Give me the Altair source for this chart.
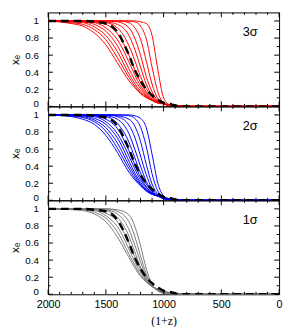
import altair as alt
import pandas as pd

XGRID = [2000, 1800, 1700, 1600, 1500, 1400, 1300, 1250, 1200, 1150, 1100, 1050, 1000, 950, 900, 800, 0]

RED_3SIGMA = [
    [1.00, 0.97, 0.94, 0.86, 0.72, 0.51, 0.30, 0.22, 0.15, 0.10, 0.07, 0.04, 0.03, 0.02, 0.01, 0.00, 0.00],
    [1.00, 0.98, 0.96, 0.90, 0.78, 0.57, 0.34, 0.24, 0.16, 0.11, 0.07, 0.04, 0.03, 0.02, 0.01, 0.00, 0.00],
    [1.00, 0.99, 0.98, 0.93, 0.83, 0.64, 0.38, 0.27, 0.18, 0.12, 0.07, 0.04, 0.03, 0.02, 0.01, 0.00, 0.00],
    [1.00, 1.00, 0.99, 0.96, 0.88, 0.71, 0.44, 0.31, 0.21, 0.13, 0.08, 0.05, 0.03, 0.02, 0.01, 0.00, 0.00],
    [1.00, 1.00, 0.99, 0.98, 0.92, 0.78, 0.52, 0.37, 0.24, 0.15, 0.08, 0.05, 0.03, 0.01, 0.01, 0.00, 0.00],
    [1.00, 1.00, 1.00, 0.99, 0.96, 0.85, 0.60, 0.43, 0.28, 0.17, 0.09, 0.05, 0.03, 0.01, 0.01, 0.00, 0.00],
    [1.00, 1.00, 1.00, 0.99, 0.98, 0.92, 0.71, 0.54, 0.35, 0.21, 0.11, 0.06, 0.03, 0.01, 0.01, 0.00, 0.00],
    [1.00, 1.00, 1.00, 1.00, 0.99, 0.96, 0.83, 0.67, 0.46, 0.26, 0.13, 0.06, 0.03, 0.01, 0.00, 0.00, 0.00],
    [1.00, 1.00, 1.00, 1.00, 1.00, 0.99, 0.92, 0.80, 0.60, 0.35, 0.17, 0.07, 0.03, 0.01, 0.00, 0.00, 0.00],
    [1.00, 1.00, 1.00, 1.00, 1.00, 1.00, 0.98, 0.92, 0.79, 0.53, 0.26, 0.09, 0.03, 0.01, 0.00, 0.00, 0.00],
    [1.00, 1.00, 1.00, 1.00, 1.00, 1.00, 1.00, 0.99, 0.94, 0.79, 0.46, 0.17, 0.04, 0.01, 0.00, 0.00, 0.00],
    [1.00, 1.00, 1.00, 1.00, 1.00, 1.00, 1.00, 1.00, 0.99, 0.97, 0.83, 0.43, 0.10, 0.02, 0.00, 0.00, 0.00],
]

BLUE_2SIGMA = [
    [1.00, 0.98, 0.95, 0.89, 0.76, 0.56, 0.33, 0.24, 0.17, 0.11, 0.07, 0.05, 0.03, 0.02, 0.01, 0.00, 0.00],
    [1.00, 0.99, 0.97, 0.92, 0.81, 0.61, 0.37, 0.26, 0.18, 0.11, 0.07, 0.05, 0.03, 0.02, 0.01, 0.00, 0.00],
    [1.00, 0.99, 0.98, 0.94, 0.85, 0.67, 0.41, 0.29, 0.19, 0.12, 0.08, 0.05, 0.03, 0.02, 0.01, 0.00, 0.00],
    [1.00, 1.00, 0.99, 0.96, 0.89, 0.73, 0.46, 0.32, 0.21, 0.13, 0.08, 0.05, 0.03, 0.02, 0.01, 0.00, 0.00],
    [1.00, 1.00, 0.99, 0.98, 0.92, 0.78, 0.52, 0.37, 0.24, 0.15, 0.08, 0.05, 0.03, 0.01, 0.01, 0.00, 0.00],
    [1.00, 1.00, 1.00, 0.99, 0.95, 0.84, 0.58, 0.42, 0.27, 0.16, 0.09, 0.05, 0.03, 0.01, 0.01, 0.00, 0.00],
    [1.00, 1.00, 1.00, 0.99, 0.98, 0.90, 0.68, 0.50, 0.32, 0.19, 0.10, 0.05, 0.02, 0.01, 0.01, 0.00, 0.00],
    [1.00, 1.00, 1.00, 1.00, 0.99, 0.95, 0.78, 0.60, 0.40, 0.22, 0.11, 0.05, 0.02, 0.01, 0.00, 0.00, 0.00],
    [1.00, 1.00, 1.00, 1.00, 1.00, 0.98, 0.88, 0.74, 0.52, 0.30, 0.14, 0.06, 0.02, 0.01, 0.00, 0.00, 0.00],
    [1.00, 1.00, 1.00, 1.00, 1.00, 0.99, 0.95, 0.87, 0.69, 0.42, 0.19, 0.07, 0.02, 0.01, 0.00, 0.00, 0.00],
    [1.00, 1.00, 1.00, 1.00, 1.00, 1.00, 0.99, 0.96, 0.86, 0.63, 0.31, 0.11, 0.03, 0.01, 0.00, 0.00, 0.00],
    [1.00, 1.00, 1.00, 1.00, 1.00, 1.00, 1.00, 0.99, 0.96, 0.85, 0.54, 0.20, 0.05, 0.01, 0.00, 0.00, 0.00],
]

GRAY_1SIGMA = [
    [1.00, 0.99, 0.98, 0.94, 0.85, 0.67, 0.43, 0.31, 0.21, 0.14, 0.09, 0.06, 0.04, 0.02, 0.01, 0.00, 0.00],
    [1.00, 1.00, 0.99, 0.96, 0.89, 0.73, 0.47, 0.34, 0.23, 0.15, 0.09, 0.06, 0.03, 0.02, 0.01, 0.00, 0.00],
    [1.00, 1.00, 0.99, 0.98, 0.92, 0.79, 0.53, 0.38, 0.26, 0.16, 0.09, 0.05, 0.03, 0.02, 0.01, 0.00, 0.00],
    [1.00, 1.00, 1.00, 0.99, 0.95, 0.85, 0.60, 0.44, 0.29, 0.17, 0.10, 0.05, 0.03, 0.01, 0.01, 0.00, 0.00],
    [1.00, 1.00, 1.00, 0.99, 0.98, 0.90, 0.68, 0.50, 0.32, 0.19, 0.10, 0.05, 0.02, 0.01, 0.01, 0.00, 0.00],
    [1.00, 1.00, 1.00, 1.00, 0.99, 0.94, 0.76, 0.58, 0.38, 0.21, 0.10, 0.05, 0.02, 0.01, 0.00, 0.00, 0.00],
    [1.00, 1.00, 1.00, 1.00, 1.00, 0.97, 0.85, 0.68, 0.45, 0.24, 0.11, 0.04, 0.02, 0.01, 0.00, 0.00, 0.00],
    [1.00, 1.00, 1.00, 1.00, 1.00, 0.99, 0.93, 0.80, 0.57, 0.30, 0.12, 0.04, 0.01, 0.00, 0.00, 0.00, 0.00],
]

FIDUCIAL = [1.00, 1.00, 1.00, 0.99, 0.97, 0.87, 0.60, 0.43, 0.30, 0.20, 0.13, 0.08, 0.04, 0.03, 0.01, 0.00, 0.00]

PANEL_LABELS = ["3σ", "2σ", "1σ"]
PANEL_COLORS = ["#ff0000", "#0000ff", "#7a7a7a"]

X_MAJOR = [2000, 1500, 1000, 500, 0]
X_MINOR = [1900, 1800, 1700, 1600, 1400, 1300, 1200, 1100, 900, 800, 700, 600, 400, 300, 200, 100]
Y_MAJOR = [0, 0.2, 0.4, 0.6, 0.8, 1.0]
Y_MINOR = [0.1, 0.3, 0.5, 0.7, 0.9]

W, H = 236, 96
MAJ, MIN = 5, 2.5

xscale = alt.Scale(domain=[2000, 0], nice=False, zero=False)
yscale = alt.Scale(domain=[0, 1.1], nice=False, zero=False)


def curves_df(curves):
    rows = []
    for i, c in enumerate(curves):
        for x, v in zip(XGRID, c):
            rows.append({"x": x, "xe": v, "curve": i})
    return pd.DataFrame(rows)


def make_axes(show_x):
    if show_x:
        xaxis = alt.Axis(values=X_MAJOR, format="d", ticks=False, domain=False, grid=False,
                         labelFlush=False, labelPadding=5, labelFontSize=11,
                         title="(1+z)", titleFont="Liberation Serif", titleFontSize=12,
                         titleFontWeight="normal", titlePadding=6)
    else:
        xaxis = alt.Axis(labels=False, ticks=False, domain=False, grid=False, title=None)
    yaxis = alt.Axis(values=Y_MAJOR, format="~g", ticks=False, domain=False, grid=False,
                     labelPadding=10, labelFontSize=10, labelFlush=False, labelOverlap=False,
                     labelOffset={"condition": {"test": "datum.value == 0", "value": -2.5}, "value": 0},
                     title="xₑ", titleFontSize=12, titleFontWeight="normal", titlePadding=3)
    return xaxis, yaxis


def tick_layers(xaxis, yaxis):
    layers = []
    for vals, ln in ((X_MAJOR, MAJ), (X_MINOR, MIN)):
        d = pd.DataFrame({"x": vals})
        layers.append(alt.Chart(d).mark_rule(color="black", strokeWidth=1).encode(
            x=alt.X("x:Q", scale=xscale, axis=xaxis), y=alt.value(H), y2=alt.value(H - ln)))
        layers.append(alt.Chart(d).mark_rule(color="black", strokeWidth=1).encode(
            x=alt.X("x:Q", scale=xscale, axis=xaxis), y=alt.value(0), y2=alt.value(ln)))
    for vals, ln in ((Y_MAJOR, MAJ), (Y_MINOR, MIN)):
        d = pd.DataFrame({"xe": vals})
        layers.append(alt.Chart(d).mark_rule(color="black", strokeWidth=1).encode(
            y=alt.Y("xe:Q", scale=yscale, axis=yaxis), x=alt.value(0), x2=alt.value(ln)))
        layers.append(alt.Chart(d).mark_rule(color="black", strokeWidth=1).encode(
            y=alt.Y("xe:Q", scale=yscale, axis=yaxis), x=alt.value(W), x2=alt.value(W - ln)))
    return layers


def panel(curves, color, label, show_x):
    xaxis, yaxis = make_axes(show_x)
    lines = alt.Chart(curves_df(curves)).mark_line(
        color=color, strokeWidth=1, interpolate="monotone", clip=True).encode(
        x=alt.X("x:Q", scale=xscale, axis=xaxis),
        y=alt.Y("xe:Q", scale=yscale, axis=yaxis),
        detail="curve:N")
    fid = alt.Chart(pd.DataFrame({"x": XGRID, "xe": FIDUCIAL})).mark_line(
        color="black", strokeWidth=2.5, strokeDash=[8, 5], interpolate="monotone", clip=True).encode(
        x=alt.X("x:Q", scale=xscale, axis=xaxis),
        y=alt.Y("xe:Q", scale=yscale, axis=yaxis))
    txt = alt.Chart(pd.DataFrame({"t": [label]})).mark_text(
        fontSize=13, font="Liberation Sans", align="center", baseline="middle", color="black").encode(
        text="t:N", x=alt.value(0.875 * W), y=alt.value(0.21 * H))
    return alt.layer(lines, fid, *tick_layers(xaxis, yaxis), txt).properties(width=W, height=H)


chart = alt.vconcat(
    panel(RED_3SIGMA, PANEL_COLORS[0], PANEL_LABELS[0], False),
    panel(BLUE_2SIGMA, PANEL_COLORS[1], PANEL_LABELS[1], False),
    panel(GRAY_1SIGMA, PANEL_COLORS[2], PANEL_LABELS[2], True),
    spacing=0,
    bounds="flush",
).properties(padding=0).configure_view(
    stroke="black", strokeWidth=1
).configure_axis(
    labelFont="Liberation Sans", titleFont="Liberation Sans", labelColor="black", titleColor="black"
).configure_concat(spacing=0)

chart.save("out.html", embed_options={"renderer": "svg", "actions": False})
